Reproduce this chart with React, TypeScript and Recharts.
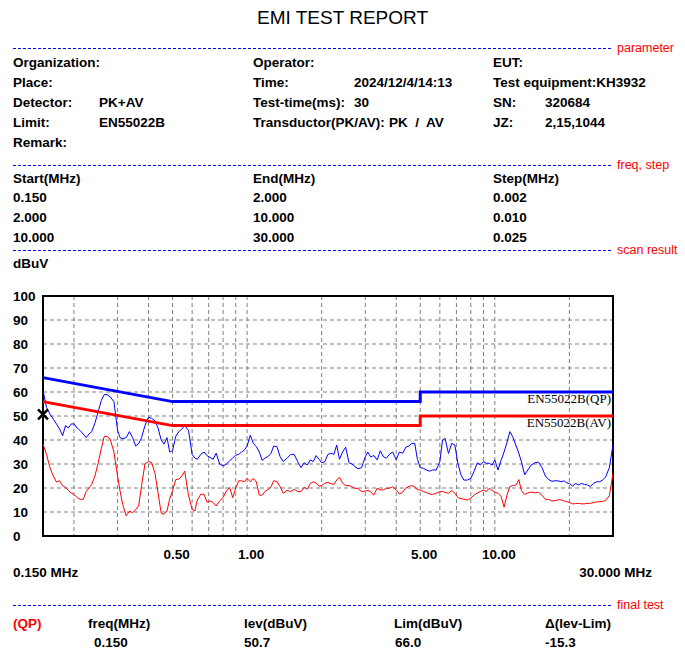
import React from 'react';
import {
  ComposedChart,
  Line,
  Scatter,
  XAxis,
  YAxis,
  CartesianGrid,
  ReferenceArea
} from 'recharts';

// scan frequencies (MHz)
const freqs = [
  0.150, 0.155, 0.160, 0.165, 0.170, 0.175, 0.180, 0.185, 0.190, 0.195,
  0.200, 0.206, 0.212, 0.218, 0.224, 0.230, 0.236, 0.243, 0.250, 0.258,
  0.265, 0.272, 0.280, 0.290, 0.300, 0.307, 0.315, 0.325, 0.335, 0.345,
  0.355, 0.365, 0.375, 0.387, 0.400, 0.412, 0.425, 0.437, 0.450, 0.462,
  0.475, 0.487, 0.500, 0.515, 0.530, 0.545, 0.560, 0.580, 0.600, 0.615,
  0.630, 0.650, 0.670, 0.690, 0.710, 0.730, 0.750, 0.775, 0.800, 0.825,
  0.850, 0.875, 0.900, 0.925, 0.950, 0.975,
  1.00, 1.03, 1.06, 1.09, 1.12, 1.15, 1.18, 1.22, 1.25, 1.28,
  1.32, 1.36, 1.40, 1.45, 1.50, 1.55, 1.60, 1.65, 1.70, 1.75,
  1.80, 1.85, 1.90, 1.95, 2.00, 2.06, 2.12, 2.18, 2.24, 2.30,
  2.36, 2.43, 2.50, 2.58, 2.65, 2.72, 2.80, 2.90, 3.00, 3.07,
  3.15, 3.25, 3.35, 3.45, 3.55, 3.65, 3.75, 3.87, 4.00, 4.12,
  4.25, 4.37, 4.50, 4.62, 4.75, 4.87, 5.00, 5.15, 5.30, 5.45,
  5.60, 5.80, 6.00, 6.15, 6.30, 6.50, 6.70, 6.90, 7.10, 7.30,
  7.50, 7.75, 8.00, 8.25, 8.50, 8.75, 9.00, 9.25, 9.50, 9.75,
  10.0, 10.3, 10.6, 10.9, 11.2, 11.5, 11.8, 12.2, 12.5, 12.8,
  13.2, 13.6, 14.0, 14.5, 15.0, 15.5, 16.0, 16.5, 17.0, 17.5,
  18.0, 18.5, 19.0, 19.5, 20.0, 20.6, 21.2, 21.8, 22.4, 23.0,
  23.6, 24.3, 25.0, 25.8, 26.5, 27.2, 28.0, 29.0, 30.0
];

// PK trace (dBuV)
const pkLevel = [
  60.6, 53.6, 50.8, 48.7, 46.7, 44.6, 41.8, 46.0, 45.0, 46.7,
  46.7, 45.0, 43.9, 42.5, 41.0, 42.5, 43.5, 47.0, 51.5, 56.5,
  58.9, 58.9, 58.0, 56.0, 44.0, 41.0, 40.5, 41.0, 43.5, 41.0,
  37.5, 38.5, 41.0, 46.0, 49.5, 49.0, 48.0, 45.0, 40.0, 38.3,
  41.0, 35.0, 35.5, 41.5, 43.5, 44.5, 46.0, 44.0, 34.0, 32.5,
  32.0, 34.0, 35.0, 33.4, 32.7, 32.0, 34.5, 30.0, 29.2, 30.0,
  31.3, 32.5, 33.7, 34.0, 35.0, 35.8,
  37.5, 42.0, 38.6, 37.2, 35.0, 31.5, 32.4, 33.3, 34.5, 37.5,
  37.2, 33.0, 31.0, 32.4, 34.0, 34.0, 31.0, 28.5, 30.5, 29.6,
  31.7, 31.0, 33.5, 32.0, 30.5, 31.0, 34.0, 34.5, 34.0, 37.9,
  32.0, 35.0, 37.0, 30.5, 30.0, 29.0, 28.0, 28.5, 33.0, 35.0,
  33.0, 33.5, 31.7, 35.5, 33.0, 32.4, 34.0, 35.0, 31.8, 35.0,
  34.5, 37.0, 37.5, 38.6, 38.6, 32.0, 28.5, 28.2, 27.5, 27.0,
  27.5, 27.5, 31.0, 40.0, 40.7, 34.4, 38.6, 37.9, 30.0, 25.5,
  23.3, 23.3, 24.0, 27.0, 30.5, 29.6, 31.0, 30.3, 30.3, 29.5,
  31.7, 27.5, 31.5, 35.0, 39.0, 43.5, 41.5, 37.5, 34.5, 31.0,
  25.5, 27.5, 29.5, 30.5, 30.8, 28.5, 25.0, 23.5, 22.8, 23.0,
  23.0, 22.6, 23.0, 22.2, 21.9, 20.8, 21.9, 21.3, 21.9, 21.5,
  21.3, 20.6, 21.9, 22.6, 22.6, 23.3, 24.5, 28.5, 38.0
];

// AV trace (dBuV)
const avLevel = [
  38.3, 34.0, 28.5, 25.0, 22.5, 23.0, 21.0, 20.2, 19.0, 17.8,
  17.4, 16.0, 15.3, 15.3, 18.5, 20.0, 21.5, 25.0, 30.0, 36.5,
  41.5, 41.5, 40.4, 35.0, 25.0, 18.8, 13.0, 8.4, 10.4, 9.7,
  11.0, 12.5, 21.0, 30.0, 31.0, 30.6, 26.0, 18.0, 9.5, 9.0,
  10.4, 15.5, 18.8, 23.5, 23.7, 25.0, 27.0, 17.0, 11.1, 10.4,
  15.0, 17.4, 17.4, 14.0, 14.6, 13.9, 12.5, 14.6, 16.0, 18.8,
  20.2, 16.0, 20.0, 23.0, 23.0, 22.6,
  24.0, 22.6, 24.0, 22.5, 17.0, 17.0, 18.5, 19.5, 20.5, 23.0,
  22.6, 20.5, 17.8, 19.0, 18.5, 19.5, 18.5, 18.5, 20.3, 19.5,
  21.9, 22.6, 22.0, 20.8, 21.0, 22.0, 22.3, 21.8, 21.5, 23.3,
  24.5, 22.0, 21.0, 21.0, 20.5, 19.9, 19.8, 18.5, 18.7, 19.0,
  18.5, 17.0, 19.9, 19.2, 19.2, 19.9, 19.9, 20.5, 19.2, 17.5,
  18.3, 20.0, 20.6, 21.0, 20.5, 19.2, 19.2, 18.5, 18.1, 17.5,
  17.3, 17.8, 18.5, 18.5, 18.2, 17.8, 19.0, 17.8, 16.0, 15.6,
  15.3, 15.0, 15.8, 17.1, 17.9, 18.5, 19.2, 18.5, 19.9, 19.0,
  18.3, 17.8, 16.5, 12.0, 17.0, 20.6, 21.0, 21.3, 23.5, 19.0,
  17.3, 18.0, 18.3, 18.0, 18.2, 17.0, 15.3, 15.2, 14.6, 14.7,
  15.1, 15.1, 14.6, 14.3, 14.0, 13.4, 13.5, 13.6, 13.4, 13.4,
  13.6, 13.6, 13.9, 14.2, 14.3, 14.4, 14.8, 16.8, 26.0
];

// EN55022B limits
const limitFreqs = [0.15, 0.5, 5, 5, 30];
const qpLimit = [66, 56, 56, 60, 60];
const avLimit = [56, 46, 46, 50, 50];

// final test point
const finalFreq = [0.15];
const finalLevel = [50.7];

const yTicks = [0, 10, 20, 30, 40, 50, 60, 70, 80, 90, 100];
const gridFreqs = [0.2, 0.3, 0.4, 0.5, 0.6, 0.7, 0.8, 0.9, 1, 2, 3, 4, 5, 6, 7, 8, 9, 10, 20];
const labelFreqs = [0.5, 1, 5, 10];
const labelText = ['0.50', '1.00', '5.00', '10.00'];

const scanRows = freqs.map((f, i) => ({ f, pk: pkLevel[i], av: avLevel[i] }));
const qpRows = limitFreqs.map((f, i) => ({ f, v: qpLimit[i] }));
const avRows = limitFreqs.map((f, i) => ({ f, v: avLimit[i] }));
const finalRows = finalFreq.map((f, i) => ({ f, v: finalLevel[i] }));

const sans = '"Liberation Sans", Arial, sans-serif';

const Txt = ({ x, y, right, size = 13.5, bold = true, color = '#000', children }: any) => (
  <div
    style={{
      position: 'absolute',
      left: right === undefined ? x : undefined,
      right,
      top: y - 9,
      height: 18,
      lineHeight: '18px',
      fontSize: size,
      fontWeight: bold ? 700 : 400,
      fontFamily: sans,
      color,
      whiteSpace: 'pre'
    }}
  >
    {children}
  </div>
);

const Rule = ({ y, tag }: { y: number; tag: string }) => (
  <>
    <div
      style={{
        position: 'absolute',
        left: 13,
        top: y,
        width: 600,
        height: 1,
        background: 'repeating-linear-gradient(to right, #0000ff 0 3px, transparent 3px 5px)'
      }}
    />
    <Txt x={617} y={y} size={12.5} bold={false} color="#ff0000">{tag}</Txt>
  </>
);

const XTick = ({ x, y, payload }: any) => {
  const i = labelFreqs.indexOf(payload.value);
  if (i < 0) return <g />;
  return (
    <text x={x + 4} y={y + 16} textAnchor="middle" dominantBaseline="central"
      fontFamily={sans} fontWeight={700} fontSize={13.5} fill="#000">
      {labelText[i]}
    </text>
  );
};

const YTick = ({ y, payload }: any) => (
  <text x={13} y={y} textAnchor="start" dominantBaseline="central"
    fontFamily={sans} fontWeight={700} fontSize={13.5} fill="#000">
    {payload.value}
  </text>
);

const XMark = ({ cx, cy }: any) => (
  <path d={`M${cx - 5},${cy - 5}L${cx + 5},${cy + 5}M${cx + 5},${cy - 5}L${cx - 5},${cy + 5}`}
    stroke="#000" strokeWidth={2.5} fill="none" />
);

const limitLabel = {
  position: 'absolute' as const,
  right: 74,
  height: 16,
  lineHeight: '16px',
  fontFamily: '"Liberation Serif", "DejaVu Serif", serif',
  fontSize: 13,
  color: '#000'
};

export default function App() {
  return (
    <div style={{ position: 'absolute', left: 0, top: 0, width: 685, height: 655, background: '#fff', overflow: 'hidden' }}>
      <div style={{ position: 'absolute', left: 0, width: 685, top: 7, textAlign: 'center', fontFamily: sans, fontSize: 19, lineHeight: '22px' }}>
        EMI TEST REPORT
      </div>

      <Rule y={48} tag="parameter" />
      <Txt x={13} y={63}>Organization:</Txt>
      <Txt x={253} y={63}>Operator:</Txt>
      <Txt x={493} y={63}>EUT:</Txt>
      <Txt x={13} y={83}>Place:</Txt>
      <Txt x={253} y={83}>Time:</Txt>
      <Txt x={354} y={83}>2024/12/4/14:13</Txt>
      <Txt x={493} y={83}>Test equipment:KH3932</Txt>
      <Txt x={13} y={103}>Detector:</Txt>
      <Txt x={99} y={103}>PK+AV</Txt>
      <Txt x={253} y={103}>Test-time(ms):</Txt>
      <Txt x={354} y={103}>30</Txt>
      <Txt x={493} y={103}>SN:</Txt>
      <Txt x={545} y={103}>320684</Txt>
      <Txt x={13} y={123}>Limit:</Txt>
      <Txt x={99} y={123}>EN55022B</Txt>
      <Txt x={253} y={123}>Transductor(PK/AV):</Txt>
      <Txt x={389} y={123}>PK  /  AV</Txt>
      <Txt x={493} y={123}>JZ:</Txt>
      <Txt x={545} y={123}>2,15,1044</Txt>
      <Txt x={13} y={143}>Remark:</Txt>

      <Rule y={165} tag="freq, step" />
      <Txt x={13} y={179}>Start(MHz)</Txt>
      <Txt x={253} y={179}>End(MHz)</Txt>
      <Txt x={493} y={179}>Step(MHz)</Txt>
      <Txt x={13} y={198}>0.150</Txt>
      <Txt x={253} y={198}>2.000</Txt>
      <Txt x={493} y={198}>0.002</Txt>
      <Txt x={13} y={218}>2.000</Txt>
      <Txt x={253} y={218}>10.000</Txt>
      <Txt x={493} y={218}>0.010</Txt>
      <Txt x={13} y={238}>10.000</Txt>
      <Txt x={253} y={238}>30.000</Txt>
      <Txt x={493} y={238}>0.025</Txt>

      <Rule y={250} tag="scan result" />
      <Txt x={13} y={264}>dBuV</Txt>

      <div style={{ position: 'absolute', left: 0, top: 280 }}>
        <ComposedChart width={685} height={290} margin={{ top: 16, right: 72, bottom: 4, left: 0 }}>
          <CartesianGrid stroke="#808080" strokeDasharray="4 3" />
          <XAxis
            dataKey="f"
            type="number"
            scale="log"
            domain={[0.15, 30]}
            ticks={gridFreqs}
            interval={0}
            tick={<XTick />}
            tickLine={false}
            axisLine={false}
            tickSize={0}
            height={30}
          />
          <YAxis
            type="number"
            domain={[0, 100]}
            ticks={yTicks}
            interval={0}
            tick={<YTick />}
            tickLine={false}
            axisLine={false}
            width={43}
          />
          <Line data={scanRows} dataKey="av" type="linear" stroke="#ff0000" strokeWidth={1} dot={false} isAnimationActive={false} />
          <Line data={scanRows} dataKey="pk" type="linear" stroke="#0000ff" strokeWidth={1} dot={false} isAnimationActive={false} />
          <Line data={avRows} dataKey="v" type="linear" stroke="#ff0000" strokeWidth={3} dot={false} isAnimationActive={false} />
          <Line data={qpRows} dataKey="v" type="linear" stroke="#0000ff" strokeWidth={3} dot={false} isAnimationActive={false} />
          <ReferenceArea x1={0.15} x2={30} y1={0} y2={100} fill="none" stroke="#000" strokeWidth={2} />
          <Scatter data={finalRows} dataKey="v" shape={<XMark />} isAnimationActive={false} />
        </ComposedChart>
      </div>

      <div style={{ ...limitLabel, top: 391 }}>EN55022B(QP)</div>
      <div style={{ ...limitLabel, top: 415 }}>EN55022B(AV)</div>

      <Txt x={13} y={573}>0.150 MHz</Txt>
      <Txt right={33} y={573}>30.000 MHz</Txt>

      <Rule y={605} tag="final test" />
      <Txt x={13} y={624} color="#ff0000">(QP)</Txt>
      <Txt x={88} y={624}>freq(MHz)</Txt>
      <Txt x={244} y={624}>lev(dBuV)</Txt>
      <Txt x={394} y={624}>Lim(dBuV)</Txt>
      <Txt x={545} y={624}>Δ(lev-Lim)</Txt>
      <Txt x={94} y={643}>0.150</Txt>
      <Txt x={244} y={643}>50.7</Txt>
      <Txt x={395} y={643}>66.0</Txt>
      <Txt x={545} y={643}>-15.3</Txt>
    </div>
  );
}
